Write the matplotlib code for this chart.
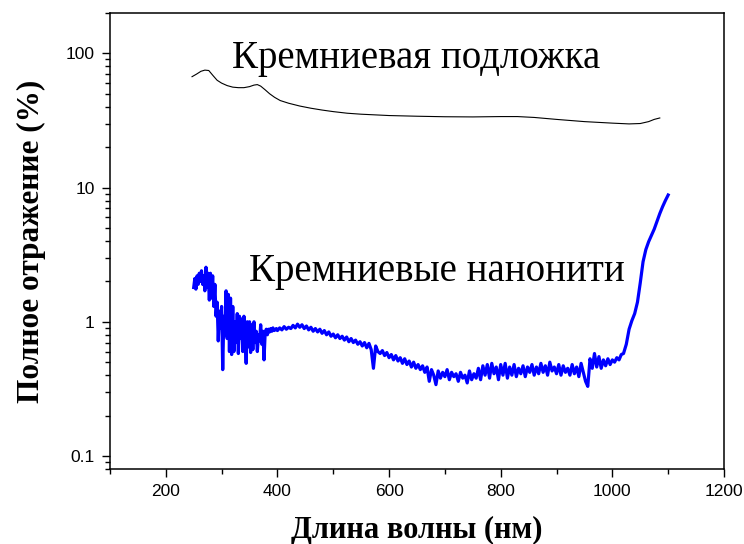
import numpy as np
import matplotlib.pyplot as plt
from matplotlib.ticker import LogLocator, FixedLocator, MultipleLocator, FuncFormatter

# ─── DATA ────────────────────────────────────────────────────────────────────
# silicon substrate (black curve)
sub_wl = [247, 255, 263, 270, 277, 285, 292, 300, 310, 320, 330, 340, 350, 358,
          364, 370, 378, 386, 395, 405, 420, 440, 460, 480, 500, 525, 550, 575,
          600, 650, 700, 750, 800, 830, 860, 900, 950, 1000, 1030, 1050, 1065,
          1075, 1085]
sub_refl = [67, 70, 73.5, 75, 74.5, 68, 63, 60, 57.5, 56, 55.5, 55.5, 56.5, 58,
            58.5, 57, 53.5, 50, 47, 44.5, 42.5, 40.5, 39, 37.8, 36.8, 35.8, 35.2,
            34.8, 34.4, 34.0, 33.7, 33.6, 33.8, 33.8, 33.3, 32.2, 31.0, 30.2,
            29.8, 30.0, 31.0, 32.2, 33.0]

# silicon nanowires (blue curve), read in three pieces
nw_wl_uv = np.arange(250, 400, 2)
nw_refl_uv = [1.8, 2.1, 1.75, 2.2, 1.9, 2.3, 2.0, 2.4, 1.9, 2.2, 1.7, 2.55, 1.8,
              2.3, 1.45, 2.3, 1.5, 2.2, 1.3, 1.9, 1.1, 1.4, 0.72, 1.2, 0.9, 1.3,
              0.44, 1.1, 0.8, 1.7, 0.75, 1.6, 0.6, 1.5, 0.57, 1.3, 0.6, 1.0,
              0.7, 1.15, 0.58, 1.1, 0.75, 1.05, 0.6, 1.1, 0.8, 0.49, 1.0, 0.65,
              1.0, 0.59, 0.95, 0.62, 1.0, 0.7, 0.85, 0.6, 0.8, 0.72, 0.95, 0.68,
              0.85, 0.52, 0.82, 0.88, 0.80, 0.88, 0.84, 0.89, 0.85, 0.9, 0.86,
              0.87, 0.89]

nw_wl_vis = np.arange(400, 1020, 4)
nw_refl_vis = [
    0.86, 0.90, 0.87, 0.92, 0.88, 0.91, 0.89, 0.94, 0.90, 0.96,   # 400-436
    0.91, 0.95, 0.89, 0.93, 0.87, 0.91, 0.85, 0.89, 0.84, 0.88,   # 440-476
    0.82, 0.86, 0.80, 0.84, 0.78, 0.81, 0.76, 0.80, 0.75, 0.78,   # 480-516
    0.73, 0.77, 0.71, 0.75, 0.70, 0.73, 0.68, 0.71, 0.66, 0.70,   # 520-556
    0.64, 0.69, 0.62, 0.45, 0.66, 0.60, 0.58, 0.61, 0.56, 0.59,   # 560-596
    0.54, 0.57, 0.52, 0.56, 0.51, 0.54, 0.49, 0.53, 0.48, 0.51,   # 600-636
    0.46, 0.50, 0.45, 0.48, 0.44, 0.47, 0.42, 0.46, 0.36, 0.44,   # 640-676
    0.40, 0.34, 0.43, 0.38, 0.42, 0.39, 0.44, 0.37, 0.42, 0.39,   # 680-716
    0.41, 0.36, 0.42, 0.38, 0.40, 0.35, 0.43, 0.37, 0.41, 0.38,   # 720-756
    0.45, 0.37, 0.47, 0.40, 0.48, 0.38, 0.49, 0.41, 0.46, 0.37,   # 760-796
    0.48, 0.40, 0.49, 0.38, 0.46, 0.40, 0.48, 0.39, 0.45, 0.41,   # 800-836
    0.47, 0.39, 0.46, 0.42, 0.48, 0.40, 0.46, 0.41, 0.49, 0.42,   # 840-876
    0.47, 0.40, 0.50, 0.43, 0.46, 0.41, 0.48, 0.40, 0.47, 0.42,   # 880-916
    0.45, 0.40, 0.48, 0.41, 0.46, 0.39, 0.49, 0.42, 0.36, 0.33,   # 920-956
    0.53, 0.45, 0.58, 0.46, 0.55, 0.45, 0.52, 0.47, 0.53, 0.48,   # 960-996
    0.52, 0.50, 0.54, 0.52, 0.57,                                 # 1000-1016
]

nw_wl_ir = np.arange(1020, 1105, 5)
nw_refl_ir = [0.58, 0.68, 0.88, 1.02, 1.15, 1.4, 1.95, 2.8, 3.45, 3.95, 4.4,
              4.9, 5.6, 6.4, 7.2, 8.0, 8.8]

nw_wl = np.concatenate([nw_wl_uv, nw_wl_vis, nw_wl_ir])
nw_refl = np.concatenate([nw_refl_uv, nw_refl_vis, nw_refl_ir])

# ─── FIGURE ──────────────────────────────────────────────────────────────────
plt.rcParams['font.family'] = ['Liberation Sans', 'DejaVu Sans']

fig = plt.figure(figsize=(7.44, 5.44), dpi=100)
ax = fig.add_axes([0.1478, 0.1379, 0.8253, 0.8383])

ax.plot(sub_wl, sub_refl, color='black', lw=0.8)
ax.plot(nw_wl, nw_refl, color='#0000ff', lw=2.3)

ax.set_yscale('log')
ax.set_xlim(100, 1200)
ax.set_ylim(0.08, 200)

ax.xaxis.set_major_locator(MultipleLocator(200))
ax.xaxis.set_minor_locator(MultipleLocator(100))
ax.yaxis.set_major_locator(FixedLocator([0.1, 1, 10, 100]))
ax.yaxis.set_minor_locator(LogLocator(base=10, subs=np.arange(2, 10)))
ax.yaxis.set_major_formatter(FuncFormatter(lambda v, p: f'{v:g}'))

ax.tick_params(which='both', direction='out', top=False, right=False,
               labelsize=12.5, width=1)
ax.tick_params(which='major', length=6, pad=5)
ax.tick_params(which='minor', length=3.5)
for s in ax.spines.values():
    s.set_linewidth(1.1)

serif = ['Liberation Serif', 'DejaVu Serif']
ax.set_xlabel('Длина волны (нм)', family=serif, fontsize=22,
              fontweight='bold', labelpad=12)
ax.set_ylabel('Полное отражение (%)', family=serif, fontsize=22.5,
              fontweight='bold', labelpad=14)

ax.text(318, 78, 'Кремниевая подложка', family=serif, fontsize=28,
        va='baseline', ha='left')
ax.text(349, 2.0, 'Кремниевые нанонити', family=serif, fontsize=28,
        va='baseline', ha='left')

fig.savefig('out.png', dpi=100)
